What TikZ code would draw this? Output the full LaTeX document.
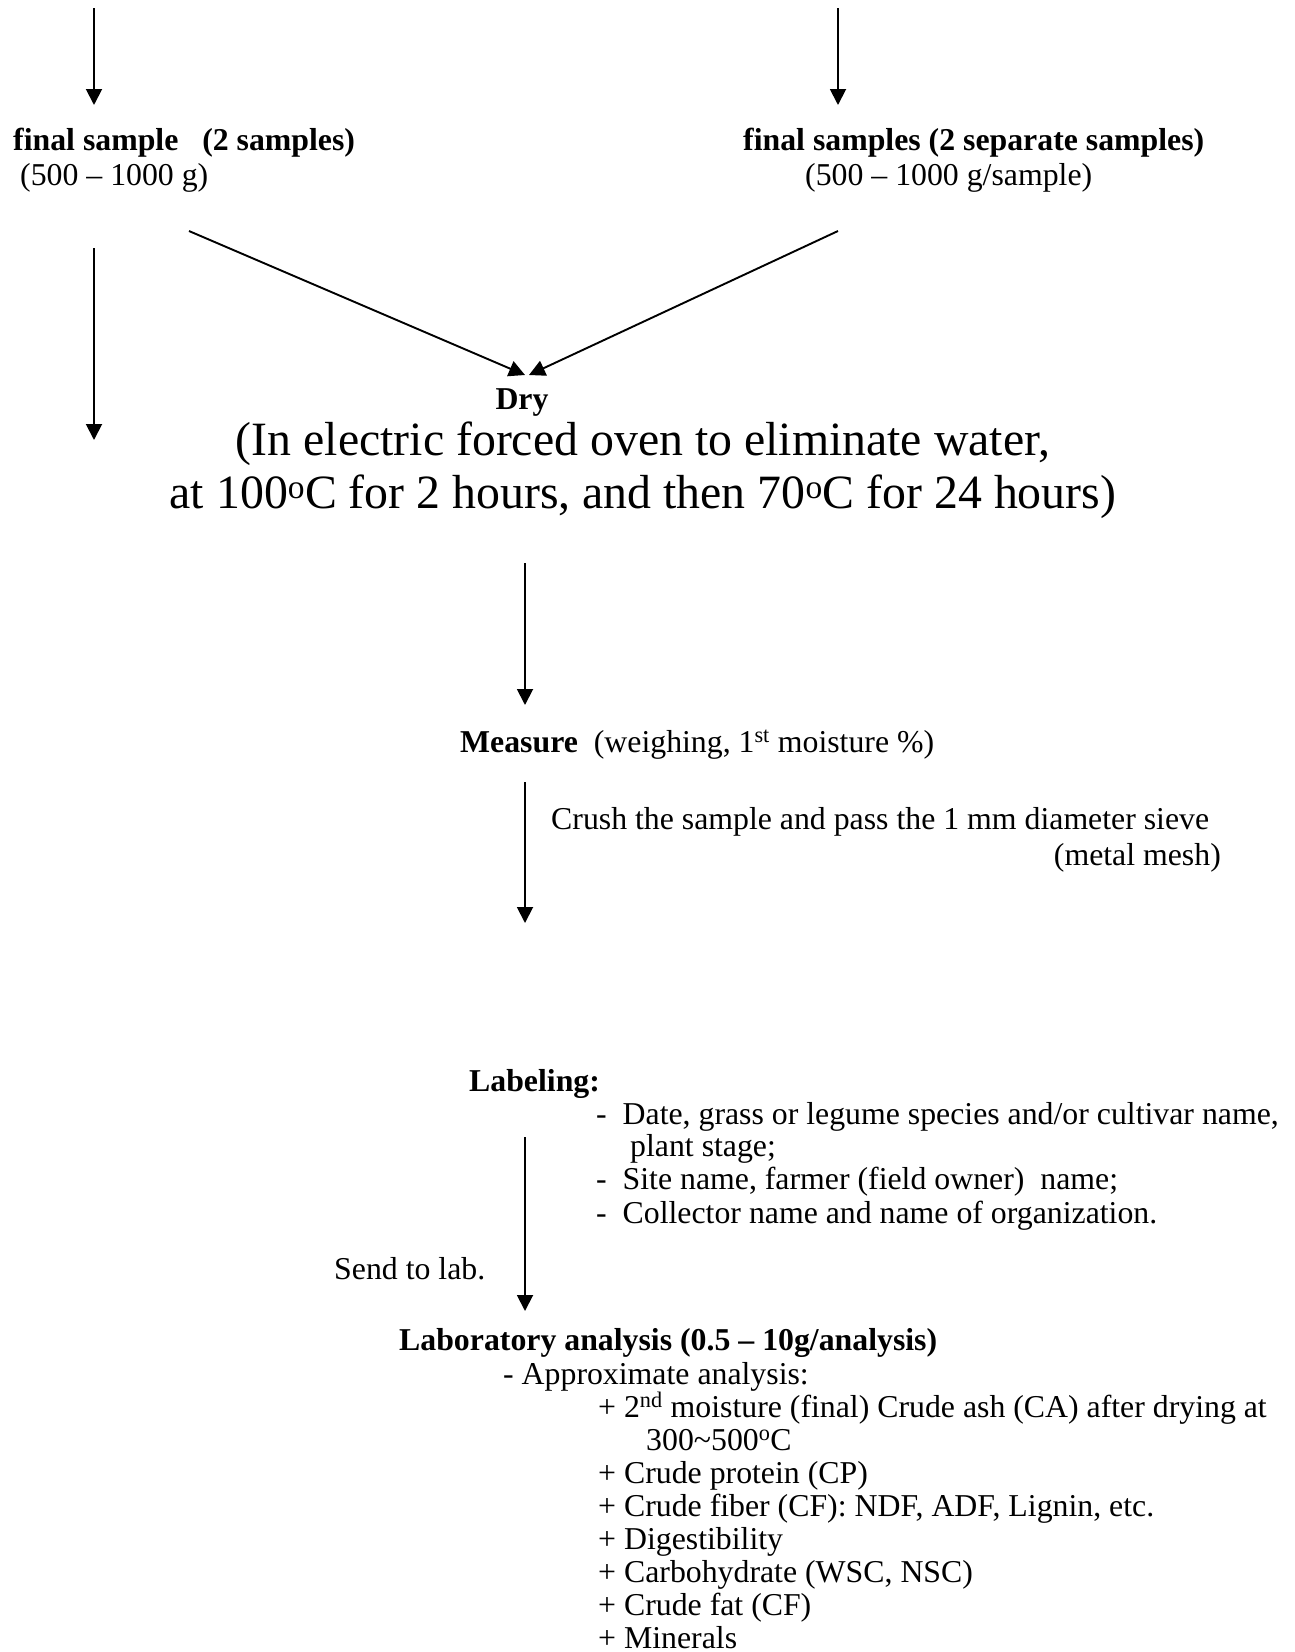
\documentclass[tikz,border=0pt]{standalone}
\usepackage{fontspec}
\setmainfont{Liberation Serif}
\usetikzlibrary{arrows.meta}
\begin{document}
\begin{tikzpicture}[x=1pt,y=-1pt,
  txt/.style={inner sep=0pt, anchor=base west, font=\fontsize{31.8}{36}\selectfont},
  big/.style={inner sep=0pt, anchor=base, font=\fontsize{47.8}{54}\selectfont},
  arr/.style={line width=1.9pt, -{Triangle[length=16pt,width=16pt]}}]
\useasboundingbox (0,0) rectangle (1295,1652);
% texts
\node[txt] (fs1) at (13,150) {\textbf{final sample\ \ \ (2 samples)}};
\node[txt] (fs1w) at (20,185) {(500 – 1000 g)};
\node[txt] (fs2) at (743,150) {\textbf{final samples (2 separate samples)}};
\node[txt] (fs2w) at (805,185) {(500 – 1000 g/sample)};
\node[txt,anchor=base] (dry) at (522,409) {\textbf{Dry}};
\node[big] (oven1) at (643,455) {(In electric forced oven to eliminate water,};
\node[big] (oven2) at (643,508) {at 100\textsuperscript{o}C for 2 hours, and then 70\textsuperscript{o}C for 24 hours)};
\node[txt] (measure) at (460,752) {\textbf{Measure}\ \ (weighing, 1\textsuperscript{st} moisture \%)};
\node[txt] (crush) at (551,829) {Crush the sample and pass the 1 mm diameter sieve};
\node[txt,anchor=base east] (mesh) at (1221,865) {(metal mesh)};
\node[txt] (label) at (469,1091) {\textbf{Labeling:}};
\node[txt] (l1) at (596,1124) {-\ \ Date, grass or legume species and/or cultivar name,};
\node[txt] (l1b) at (630,1156) {plant stage;};
\node[txt] (l2) at (596,1189) {-\ \ Site name, farmer (field owner)\ \ name;};
\node[txt] (l3) at (596,1223) {-\ \ Collector name and name of organization.};
\node[txt] (send) at (334,1279) {Send to lab.};
\node[txt] (lab) at (399,1350) {\textbf{Laboratory analysis (0.5 – 10g/analysis)}};
\node[txt] (ap) at (503,1384) {- Approximate analysis:};
\node[txt] (a1) at (598,1417) {+ 2\textsuperscript{nd} moisture (final) Crude ash (CA) after drying at};
\node[txt] (a1b) at (646,1450) {300\textasciitilde500\textsuperscript{o}C};
\node[txt] (a2) at (598,1483) {+ Crude protein (CP)};
\node[txt] (a3) at (598,1516) {+ Crude fiber (CF): NDF, ADF, Lignin, etc.};
\node[txt] (a4) at (598,1549) {+ Digestibility};
\node[txt] (a5) at (598,1582) {+ Carbohydrate (WSC, NSC)};
\node[txt] (a6) at (598,1615) {+ Crude fat (CF)};
\node[txt] (a7) at (598,1648) {+ Minerals};
% connector end points
\coordinate (t1a) at (94,8);    \coordinate (t1b) at (94,105);
\coordinate (t2a) at (838,8);   \coordinate (t2b) at (838,105);
\coordinate (d1a) at (189,231); \coordinate (d1b) at (525,375);
\coordinate (d2a) at (838,231); \coordinate (d2b) at (529,375);
\coordinate (la) at (94,248);   \coordinate (lb) at (94,440);
\coordinate (m1a) at (525,563); \coordinate (m1b) at (525,705);
\coordinate (m2a) at (525,782); \coordinate (m2b) at (525,923);
\coordinate (m3a) at (525,1137); \coordinate (m3b) at (525,1311);
% connectors
\draw[arr] (t1a) -- (t1b);
\draw[arr] (t2a) -- (t2b);
\draw[arr] (d1a) -- (d1b);
\draw[arr] (d2a) -- (d2b);
\draw[arr] (la) -- (lb);
\draw[arr] (m1a) -- (m1b);
\draw[arr] (m2a) -- (m2b);
\draw[arr] (m3a) -- (m3b);
\end{tikzpicture}
\end{document}
